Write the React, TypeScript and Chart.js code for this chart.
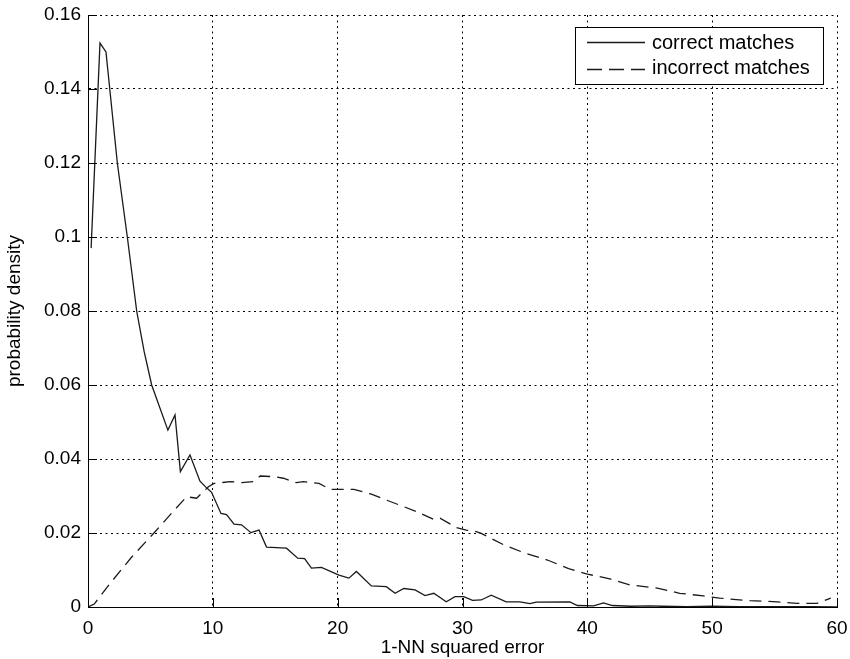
import React, { useEffect, useRef } from "react";
import { Chart, registerables } from "chart.js";

Chart.register(...registerables);

const correctX = [0.25, 0.96, 1.44, 2.35, 3.15, 3.9, 4.5, 5.1, 6.4, 6.97, 7.4, 8.17, 8.97, 9.5, 9.9, 10.65, 11.1, 11.7, 12.3, 13.05, 13.7, 14.3, 15.9, 16.8, 17.35, 17.9, 18.7, 20.1, 20.9, 21.5, 22.7, 23.9, 24.6, 25.3, 26.2, 27.0, 27.7, 28.7, 29.4, 30.1, 30.8, 31.5, 32.3, 33.5, 34.6, 35.4, 35.9, 38.6, 39.2, 40.5, 41.3, 42.0, 43.5, 45, 46, 48, 50, 52, 55, 58, 60];
const correctY = [0.097, 0.1524, 0.150, 0.120, 0.100, 0.080, 0.069, 0.060, 0.0478, 0.0519, 0.0366, 0.0411, 0.034, 0.0322, 0.031, 0.0253, 0.025, 0.0224, 0.0222, 0.0201, 0.0208, 0.0162, 0.0159, 0.0132, 0.0131, 0.0105, 0.0107, 0.0086, 0.0078, 0.0096, 0.0057, 0.0055, 0.0037, 0.005, 0.0046, 0.0031, 0.0037, 0.0014, 0.0028, 0.0028, 0.0018, 0.0019, 0.0032, 0.0014, 0.0014, 0.0009, 0.0013, 0.0014, 0.0004, 0.0003, 0.0011, 0.0004, 0.0002, 0.0003, 0.0002, 0.0001, 0.0002, 0.0001, 0.0001, 0.0001, 0.0];

const incorrectX = [0, 0.5, 1.8, 3.5, 5.5, 7.0, 7.9, 8.7, 9.65, 10.1, 11.4, 12.3, 13.25, 13.8, 15.0, 15.65, 16.7, 17.25, 18.5, 19.4, 20.5, 21.3, 22.7, 23.9, 25.0, 26.3, 27.7, 28.2, 29.5, 30.3, 31.1, 31.5, 33.3, 34.9, 36.8, 38.5, 40.0, 41.8, 43.4, 45.6, 47.4, 49.3, 50.6, 53.0, 55.2, 56.8, 58.4, 59.5];
const incorrectY = [0, 0.0008, 0.0065, 0.0135, 0.0208, 0.0265, 0.0298, 0.0294, 0.0325, 0.0334, 0.0339, 0.0336, 0.0339, 0.0354, 0.0352, 0.0348, 0.0336, 0.0339, 0.0334, 0.0318, 0.0318, 0.0318, 0.0305, 0.0289, 0.0275, 0.0258, 0.0237, 0.024, 0.0215, 0.0208, 0.0204, 0.0199, 0.0168, 0.0147, 0.0127, 0.0104, 0.0089, 0.0076, 0.006, 0.0051, 0.0037, 0.003, 0.0024, 0.0017, 0.0014, 0.001, 0.001, 0.0024];

const seriesLabels = ["correct matches", "incorrect matches"];
const xTicks = [0, 10, 20, 30, 40, 50, 60];
const yTicks = [0, 0.02, 0.04, 0.06, 0.08, 0.1, 0.12, 0.14, 0.16];
const xTitle = "1-NN squared error";
const yTitle = "probability density";

const FONT = "'Liberation Sans', Arial, Helvetica, sans-serif";
const FS = 19;

const innerTicksAndLegend = {
  id: "innerTicksAndLegend",
  afterDraw(chart: any) {
    const { ctx, chartArea, scales } = chart;
    const xs = scales.x;
    const ys = scales.y;
    ctx.save();
    ctx.strokeStyle = "#000";
    ctx.lineWidth = 1;
    ctx.setLineDash([]);
    ctx.beginPath();
    for (const t of yTicks) {
      const y = Math.round(ys.getPixelForValue(t)) + 0.5;
      ctx.moveTo(chartArea.left, y);
      ctx.lineTo(chartArea.left + 9, y);
    }
    for (const t of xTicks) {
      const x = Math.round(xs.getPixelForValue(t)) + 0.5;
      ctx.moveTo(x, chartArea.bottom);
      ctx.lineTo(x, chartArea.bottom - 9);
    }
    ctx.stroke();

    // legend box
    const bx = chartArea.right - 262;
    const by = chartArea.top + 12;
    const bw = 248;
    const bh = 57;
    ctx.fillStyle = "#fff";
    ctx.fillRect(bx, by, bw, bh);
    ctx.strokeRect(bx + 0.5, by + 0.5, bw, bh);
    const rows = [by + 15.5, by + 42.5];
    chart.data.datasets.forEach((ds: any, i: number) => {
      ctx.save();
      ctx.strokeStyle = ds.borderColor;
      ctx.lineWidth = ds.borderWidth;
      ctx.setLineDash([15, 7]);
      if (!ds.borderDash) ctx.setLineDash([]);
      ctx.beginPath();
      ctx.moveTo(bx + 12, rows[i]);
      ctx.lineTo(bx + 70, rows[i]);
      ctx.stroke();
      ctx.restore();
      ctx.fillStyle = "#000";
      ctx.font = "20px " + FONT;
      ctx.textBaseline = "middle";
      ctx.textAlign = "left";
      ctx.fillText(ds.label, bx + 77, rows[i] + (i === 0 ? 1 : -1));
    });
    ctx.restore();
  },
};

const zeroPad = (s: any) => {
  s.paddingTop = 0;
  s.paddingBottom = 0;
  s.paddingLeft = 0;
  s.paddingRight = 0;
};

export default function App() {
  const ref = useRef<HTMLCanvasElement>(null);
  useEffect(() => {
    if (!ref.current) return;
    const chart = new Chart(ref.current, {
      type: "line",
      data: {
        datasets: [
          {
            label: seriesLabels[0],
            data: correctX.map((x, i) => ({ x, y: correctY[i] })),
            borderColor: "#1a1a1a",
            borderWidth: 1.3,
            pointRadius: 0,
            fill: false,
            tension: 0,
          },
          {
            label: seriesLabels[1],
            data: incorrectX.map((x, i) => ({ x, y: incorrectY[i] })),
            borderColor: "#1a1a1a",
            borderWidth: 1.3,
            borderDash: [12, 7],
            pointRadius: 0,
            fill: false,
            tension: 0,
          },
        ],
      },
      plugins: [innerTicksAndLegend],
      options: {
        responsive: false,
        animation: false,
        layout: { padding: { left: 0, top: 15, right: 13, bottom: 0 } },
        plugins: { legend: { display: false }, tooltip: { enabled: false } },
        font: { family: FONT, size: FS },
        scales: {
          x: {
            type: "linear",
            min: 0,
            max: 60,
            afterBuildTicks: (s: any) => {
              s.ticks = xTicks.map((v) => ({ value: v }));
            },
            afterFit: (s: any) => {
              s.height = 52;
              zeroPad(s);
            },
            ticks: {
              color: "#000",
              font: { family: FONT, size: FS },
              padding: 10,
              maxRotation: 0,
              callback: (v: any) => String(v),
            },
            grid: { color: "#000", lineWidth: 1, drawTicks: false },
            border: { display: true, color: "#000", width: 1, dash: [2, 3.5] },
            title: {
              display: true,
              text: xTitle,
              color: "#000",
              font: { family: FONT, size: FS },
              padding: { top: 0, bottom: 0 },
            },
          },
          y: {
            type: "linear",
            min: 0,
            max: 0.16,
            afterBuildTicks: (s: any) => {
              s.ticks = yTicks.map((v) => ({ value: v }));
            },
            afterFit: (s: any) => {
              s.width = 88;
              zeroPad(s);
            },
            ticks: {
              color: "#000",
              font: { family: FONT, size: FS },
              padding: 7,
              callback: (v: any) => String(Number(Number(v).toFixed(2))),
            },
            grid: { color: "#000", lineWidth: 1, drawTicks: false },
            border: { display: true, color: "#000", width: 1, dash: [2, 3.5] },
            title: {
              display: true,
              text: yTitle,
              color: "#000",
              font: { family: FONT, size: FS },
              padding: { top: 3, bottom: 3 },
            },
          },
        },
      },
    });
    return () => chart.destroy();
  }, []);
  return (
    <div style={{ position: "fixed", left: 0, top: 0, width: 850, height: 659, background: "#fff" }}>
      <canvas ref={ref} width={850} height={659} />
    </div>
  );
}
